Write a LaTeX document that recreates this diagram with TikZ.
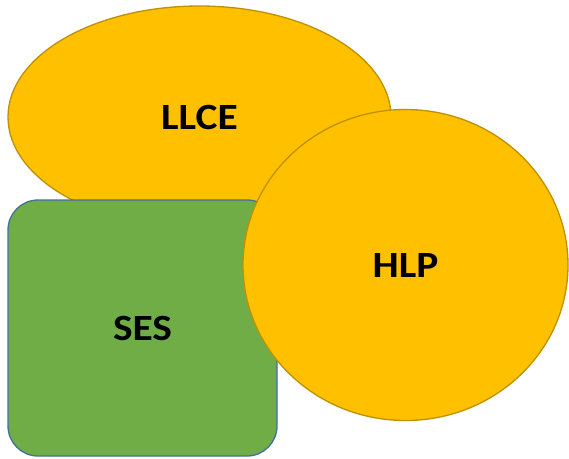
\documentclass[tikz,border=0pt]{standalone}
\usepackage{fontspec}
\setmainfont[FakeStretch=1.12]{Carlito}
\usetikzlibrary{shapes.geometric}
\definecolor{gold}{HTML}{FFC000}
\definecolor{goldline}{HTML}{BF9000}
\definecolor{leaf}{HTML}{70AD47}
\definecolor{leafline}{HTML}{41719C}
\begin{document}
\begin{tikzpicture}[x=1pt,y=-1pt]
        \tikzstyle{area}=[ellipse, draw=goldline, fill=gold, line width=1.3pt, inner sep=0pt, font=\fontsize{37}{44}\selectfont\bfseries]
        \tikzstyle{block}=[rectangle, rounded corners=30pt, draw=leafline, fill=leaf, line width=1.3pt, inner sep=0pt, font=\fontsize{37}{44}\selectfont\bfseries]
        \useasboundingbox (0,0) rectangle (569,458);
        \node[area, minimum width=383pt, minimum height=222pt] (llce) at (199.5,117) {LLCE};
        \node[block, minimum width=269pt, minimum height=256pt] (ses) at (142.5,328) {SES};
        \node[area, minimum width=325pt, minimum height=311pt] (hlp) at (405.5,265) {HLP};
    \end{tikzpicture}
\end{document}
